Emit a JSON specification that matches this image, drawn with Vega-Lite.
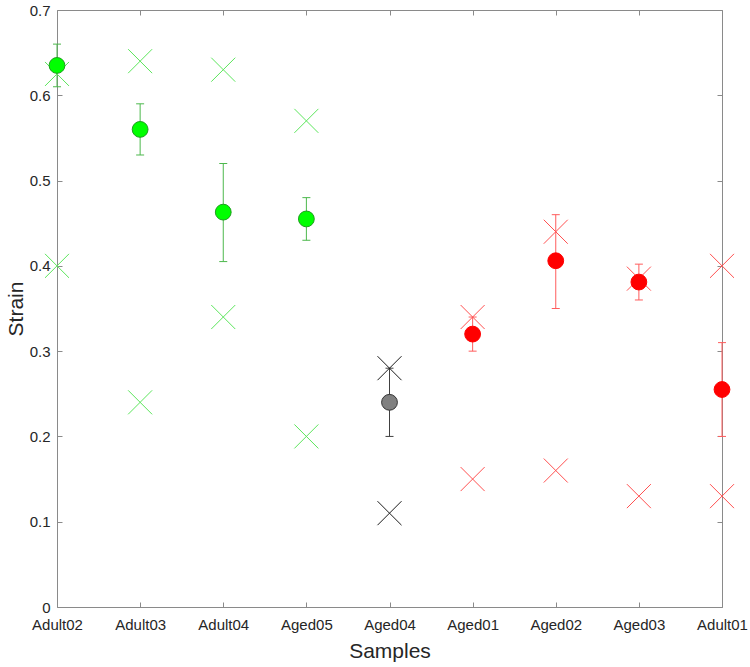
{
  "$schema": "https://vega.github.io/schema/vega-lite/v6.json",
  "width": 665,
  "height": 597,
  "autosize": "none",
  "padding": {"left": 57, "top": 10, "right": 28, "bottom": 60},
  "background": "white",
  "config": {
    "view": {"stroke": "#8a8a8a", "strokeWidth": 1},
    "axis": {
      "labelFont": "Liberation Sans",
      "titleFont": "Liberation Sans",
      "labelColor": "#262626",
      "titleColor": "#262626",
      "labelFontSize": 15,
      "titleFontSize": 21,
      "titleFontWeight": "normal",
      "grid": false,
      "domain": false,
      "tickColor": "#8a8a8a",
      "tickSize": -5
    }
  },
  "data": {
    "values": [
      {"sample": "Adult02", "grp": "A", "mean": 0.635, "lo": 0.61, "hi": 0.66, "x1": 0.625, "x2": 0.40},
      {"sample": "Adult03", "grp": "A", "mean": 0.56, "lo": 0.53, "hi": 0.59, "x1": 0.64, "x2": 0.24},
      {"sample": "Adult04", "grp": "A", "mean": 0.463, "lo": 0.405, "hi": 0.52, "x1": 0.63, "x2": 0.34},
      {"sample": "Aged05", "grp": "A", "mean": 0.455, "lo": 0.43, "hi": 0.48, "x1": 0.57, "x2": 0.20},
      {"sample": "Aged04", "grp": "B", "mean": 0.24, "lo": 0.20, "hi": 0.28, "x1": 0.28, "x2": 0.11},
      {"sample": "Aged01", "grp": "C", "mean": 0.32, "lo": 0.30, "hi": 0.34, "x1": 0.34, "x2": 0.15},
      {"sample": "Aged02", "grp": "C", "mean": 0.406, "lo": 0.35, "hi": 0.46, "x1": 0.44, "x2": 0.16},
      {"sample": "Aged03", "grp": "C", "mean": 0.381, "lo": 0.36, "hi": 0.402, "x1": 0.385, "x2": 0.13},
      {"sample": "Adult01", "grp": "C", "mean": 0.255, "lo": 0.20, "hi": 0.31, "x1": 0.40, "x2": 0.13}
    ]
  },
  "resolve": {
    "scale": {"color": "independent", "stroke": "independent", "fill": "independent"},
    "axis": {"x": "independent", "y": "independent"}
  },
  "layer": [
    {
      "mark": {"type": "rule", "strokeWidth": 1},
      "encoding": {
        "x": {"field": "sample", "type": "nominal", "sort": null,
              "scale": {"type": "point", "padding": 0},
              "axis": {"orient": "bottom", "title": "Samples", "labelAngle": 0, "labelPadding": 15, "titlePadding": 8}},
        "y": {"field": "lo", "type": "quantitative",
              "scale": {"domain": [0, 0.7], "nice": false, "zero": false},
              "axis": {"orient": "left", "title": "Strain", "values": [0, 0.1, 0.2, 0.3, 0.4, 0.5, 0.6, 0.7], "format": "~g", "labelPadding": 12, "titlePadding": 3}},
        "y2": {"field": "hi"},
        "color": {"field": "grp", "type": "nominal", "legend": null,
                  "scale": {"domain": ["A", "B", "C"], "range": ["#4cb84c", "#404040", "#ff5c5c"]}}
      }
    },
    {
      "mark": {"type": "point", "shape": "M-1,0L1,0", "size": 64, "strokeWidth": 1, "filled": false, "opacity": 1},
      "encoding": {
        "x": {"field": "sample", "type": "nominal", "sort": null, "scale": {"type": "point", "padding": 0},
              "axis": {"orient": "top", "title": null, "labels": false}},
        "y": {"field": "lo", "type": "quantitative", "scale": {"domain": [0, 0.7], "nice": false, "zero": false},
              "axis": {"orient": "right", "title": null, "labels": false, "values": [0, 0.1, 0.2, 0.3, 0.4, 0.5, 0.6, 0.7]}},
        "color": {"field": "grp", "type": "nominal", "legend": null,
                  "scale": {"domain": ["A", "B", "C"], "range": ["#4cb84c", "#404040", "#ff5c5c"]}}
      }
    },
    {
      "mark": {"type": "point", "shape": "M-1,0L1,0", "size": 64, "strokeWidth": 1, "filled": false, "opacity": 1},
      "encoding": {
        "x": {"field": "sample", "type": "nominal", "sort": null, "scale": {"type": "point", "padding": 0}, "axis": null},
        "y": {"field": "hi", "type": "quantitative", "scale": {"domain": [0, 0.7], "nice": false, "zero": false}, "axis": null},
        "color": {"field": "grp", "type": "nominal", "legend": null,
                  "scale": {"domain": ["A", "B", "C"], "range": ["#4cb84c", "#404040", "#ff5c5c"]}}
      }
    },
    {
      "mark": {"type": "point", "shape": "M-1,-1L1,1M-1,1L1,-1", "size": 576, "strokeWidth": 1, "filled": false, "opacity": 1},
      "encoding": {
        "x": {"field": "sample", "type": "nominal", "sort": null, "scale": {"type": "point", "padding": 0}, "axis": null},
        "y": {"field": "x1", "type": "quantitative", "scale": {"domain": [0, 0.7], "nice": false, "zero": false}, "axis": null},
        "color": {"field": "grp", "type": "nominal", "legend": null,
                  "scale": {"domain": ["A", "B", "C"], "range": ["#5ce65c", "#1a1a1a", "#ff5050"]}}
      }
    },
    {
      "mark": {"type": "point", "shape": "M-1,-1L1,1M-1,1L1,-1", "size": 576, "strokeWidth": 1, "filled": false, "opacity": 1},
      "encoding": {
        "x": {"field": "sample", "type": "nominal", "sort": null, "scale": {"type": "point", "padding": 0}, "axis": null},
        "y": {"field": "x2", "type": "quantitative", "scale": {"domain": [0, 0.7], "nice": false, "zero": false}, "axis": null},
        "color": {"field": "grp", "type": "nominal", "legend": null,
                  "scale": {"domain": ["A", "B", "C"], "range": ["#5ce65c", "#1a1a1a", "#ff5050"]}}
      }
    },
    {
      "mark": {"type": "point", "shape": "circle", "size": 250, "strokeWidth": 1, "filled": true, "opacity": 1},
      "encoding": {
        "x": {"field": "sample", "type": "nominal", "sort": null, "scale": {"type": "point", "padding": 0}, "axis": null},
        "y": {"field": "mean", "type": "quantitative", "scale": {"domain": [0, 0.7], "nice": false, "zero": false}, "axis": null},
        "fill": {"field": "grp", "type": "nominal", "legend": null,
                 "scale": {"domain": ["A", "B", "C"], "range": ["#00ff00", "#808080", "#ff0000"]}},
        "stroke": {"field": "grp", "type": "nominal", "legend": null,
                   "scale": {"domain": ["A", "B", "C"], "range": ["#1f9e1f", "#333333", "#ff0000"]}}
      }
    }
  ]
}
